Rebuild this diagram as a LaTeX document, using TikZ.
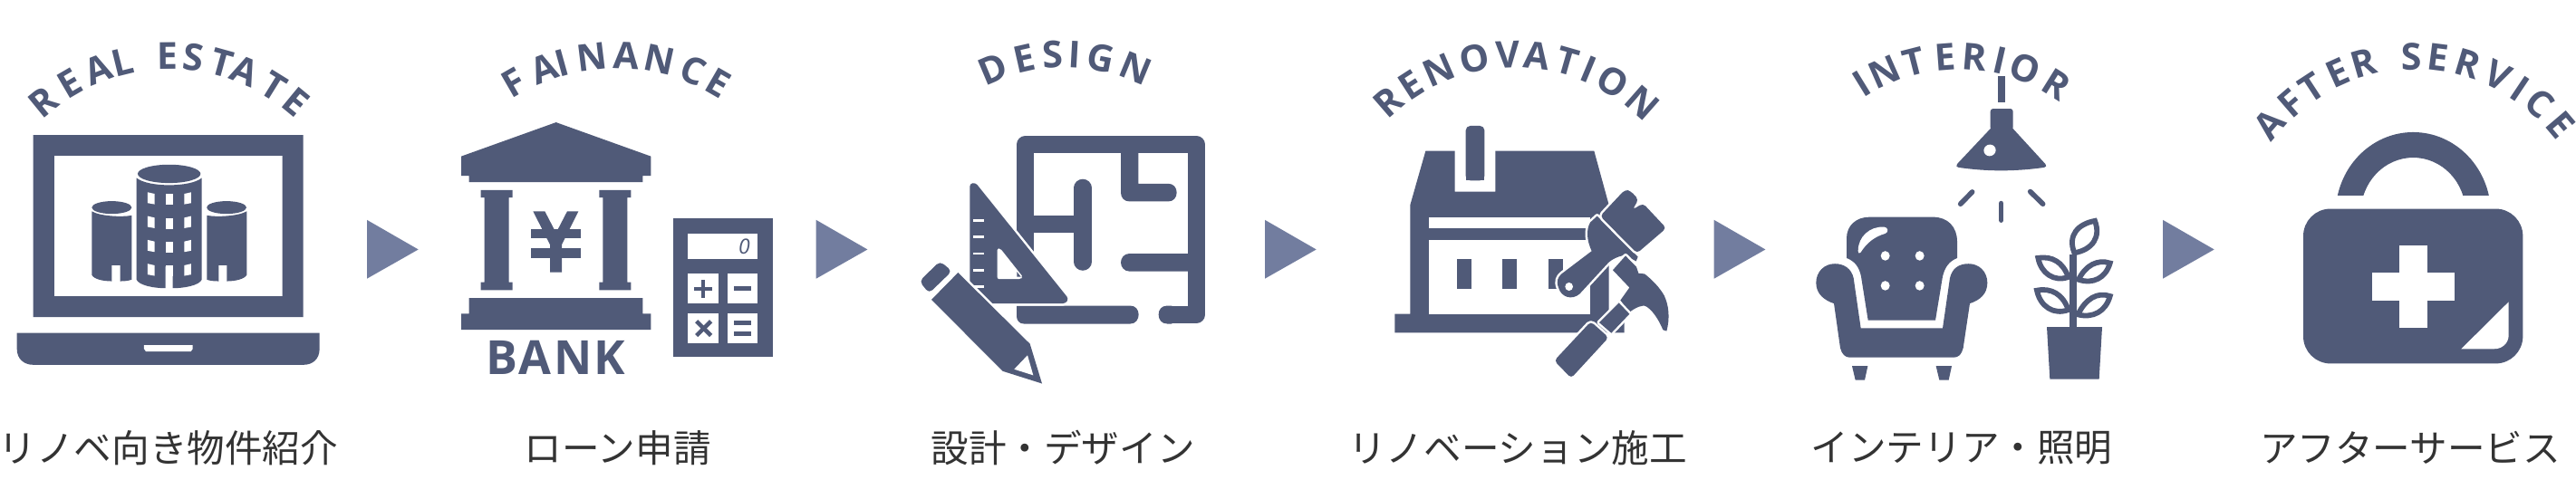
\documentclass[tikz,border=0pt]{standalone}
\usepackage{fontspec}
\newfontfamily\jp{Noto Sans CJK JP}
\newfontfamily\ens{Open Sans}
\definecolor{ink}{HTML}{505A78}
\definecolor{arrowc}{HTML}{727D9F}
\definecolor{jpc}{HTML}{333333}
\tikzset{
 icon/.style={fill=ink,draw=none},
 gap/.style={fill=white,draw=none},
 haloed/.style={fill=ink,preaction={draw=white,line width=5pt,line join=round}},
 wall/.style={draw=ink,line width=19.3pt,line join=round},
 leaf/.style={draw=ink,line width=5.8pt,line join=miter},
 ray/.style={draw=ink,line width=5.6pt,line cap=round},
 zone/.style={x=0.33333pt,y=-0.350877pt},
 archletter/.style={inner sep=0pt,text=ink,font=\ens\bfseries\fontsize{41}{41}\selectfont},
 caption/.style={inner sep=0pt,text=jpc,font=\jp\fontsize{41.6}{44}\selectfont},
 stepmark/.style={fill=arrowc,draw=none},
}
\newcommand{\arcword}[5]{%
 \foreach \lch/\xx in {#5}{%
  \pgfmathsetmacro\letang{asin((\xx-#2)/#4)}%
  \pgfmathsetmacro\yy{#3-#4*cos(\letang)}%
  \pgfmathsetmacro\letrot{atan(1.0526*tan(\letang))}%
  \node[archletter,rotate=-\letrot] (#1\xx) at (\xx,\yy) {\lch};
 }}
\newcommand{\stepmarker}[1]{\fill[stepmark] (#1,230.7) -- (#1+56.7,261.7) -- (#1,292.3) -- cycle;}
\begin{document}
\begin{tikzpicture}[x=1pt,y=-1.05263pt]
\useasboundingbox (0,0) rectangle (2843,523.45);
\fill[white] (0,0) rectangle (2843,523.45);

% arched titles
\arcword{real}{187}{286}{227}{R/48,E/77,A/108,L/135,E/185,S/213,T/245,A/270,T/302,E/327}
\arcword{fin}{680}{293}{235}{F/567,A/600,I/620,N/653,A/691,N/728,C/765,E/793}
\arcword{des}{1175}{270}{213}{D/1096,E/1130,S/1162,I/1186,G/1215,N/1253}
\arcword{ren}{1672}{277}{220}{R/1532,E/1557,N/1588,O/1627,V/1664,A/1696,T/1730,I/1753,O/1780,N/1813}
\arcword{int}{2162}{271}{212}{I/2055,N/2080,T/2112,E/2147,R/2179,I/2207,O/2235,R/2270}
\arcword{aft}{2665}{275}{216}{A/2505,F/2528,T/2551,E/2580,R/2608,S/2661,E/2691,R/2724,V/2757,I/2781,C/2803,E/2826}

% captions
\node[caption] (c1) at (186,470) {リノベ向き物件紹介};
\node[caption] (c2) at (681.7,470) {ローン申請};
\node[caption] (c3) at (1173,470) {設計・デザイン};
\node[caption] (c4) at (1675,470) {リノベーション施工};
\node[caption] (c5) at (2165,470) {インテリア・照明};
\node[caption] (c6) at (2660,470) {アフターサービス};

% step markers
\stepmarker{405}
\stepmarker{900.7}
\stepmarker{1396}
\stepmarker{1891.7}
\stepmarker{2387}

% ---------- laptop
\begin{scope}[zone]
\fill[icon,even odd rule] (110,425) rectangle (1004,998) (180,490) rectangle (935,932);
\fill[icon] (56,1048) -- (1058,1048) -- (1058,1098) .. controls (1058,1130) and (1035,1148) .. (1005,1148) -- (110,1148) .. controls (80,1148) and (56,1130) .. (56,1098) -- cycle;
\fill[gap] (477,1086) -- (638,1086) -- (638,1098) -- (632,1106) -- (483,1106) -- (477,1098) -- cycle;
% centre building
\fill[icon] (560,547) ellipse [x radius=104,y radius=29];
\fill[icon] (452,560) .. controls (490,590) and (630,590) .. (668,560) -- (668,880) .. controls (660,898) and (610,907) .. (572,907) -- (572,838) -- (548,838) -- (548,907) .. controls (510,907) and (460,898) .. (452,880) -- cycle;
\foreach \wy in {605,680,755,830}{
 \fill[gap] (489,\wy) -- (512,\wy+5) -- (512,\wy+38) -- (489,\wy+34) -- cycle;
 \fill[gap] (549,\wy+6) -- (572,\wy+6) -- (572,\wy+40) -- (549,\wy+40) -- cycle;
 \fill[gap] (610,\wy+5) -- (633,\wy) -- (633,\wy+34) -- (610,\wy+38) -- cycle;
}
% left building
\begin{scope}
\clip (290,620) rectangle (436,690);
\fill[icon] (370,653) ellipse [x radius=66,y radius=20];
\end{scope}
\fill[icon] (304,665) .. controls (330,680) and (400,684) .. (436,678) -- (436,880) .. controls (425,884) and (410,885) .. (398,885) -- (398,835) -- (370,835) -- (370,885) .. controls (340,885) and (310,878) .. (304,865) -- cycle;
% right building
\begin{scope}
\clip (685,620) rectangle (830,690);
\fill[icon] (750,653) ellipse [x radius=66,y radius=20];
\end{scope}
\fill[icon] (817,665) .. controls (790,680) and (720,684) .. (685,678) -- (685,880) .. controls (695,884) and (712,885) .. (724,885) -- (724,835) -- (751,835) -- (751,885) .. controls (780,885) and (810,878) .. (817,865) -- cycle;
\end{scope}

% ---------- bank
\begin{scope}[shift={(480pt,0pt)},zone]
\fill[icon] (401,385) -- (715,492) -- (715,553) -- (688,553) -- (688,573) -- (113,573) -- (113,553) -- (87,553) -- (87,492) -- cycle;
\foreach \cx in {0,392}{
 \fill[icon] (152+\cx,598) -- (257+\cx,598) -- (257+\cx,622) -- (245+\cx,622) -- (245+\cx,888) -- (257+\cx,888) -- (257+\cx,913) -- (152+\cx,913) -- (152+\cx,888) -- (164+\cx,888) -- (164+\cx,622) -- (152+\cx,622) -- cycle;
}
\fill[icon] (113,938) -- (688,938) -- (688,987) -- (715,987) -- (715,1038) -- (87,1038) -- (87,987) -- (113,987) -- cycle;
\fill[icon] (325,665) -- (364,665) -- (401,733) -- (438,665) -- (475,665) -- (420,770) -- (420,857) -- (381,857) -- (381,770) -- cycle;
\fill[icon] (318,720) rectangle (483,750);
\fill[icon] (318,782) rectangle (483,813);
\node[inner sep=0pt,text=ink,font=\ens\bfseries\fontsize{52}{52}\selectfont\addfontfeature{LetterSpace=5}] (bank) at (400,1125) {BANK};
% calculator
\fill[icon] (788,687) rectangle (1120,1124);
\fill[gap] (838,735) rectangle (1069,816);
\fill[gap] (838,861) rectangle (939,956);
\fill[gap] (969,861) rectangle (1069,956);
\fill[gap] (838,985) rectangle (939,1080);
\fill[gap] (969,985) rectangle (1069,1080);
\node[inner sep=0pt,text=ink,font=\ens\itshape\fontsize{23}{23}\selectfont] (display) at (1024,776) {0};
\fill[icon] (859,903) rectangle (919,916);
\fill[icon] (883,880) rectangle (895,938);
\fill[icon] (990,902) rectangle (1048,915);
\draw[draw=ink,line width=4.5pt] (866,1011) -- (914,1056) (914,1011) -- (866,1056);
\fill[icon] (990,1009) rectangle (1048,1022);
\fill[icon] (990,1043) rectangle (1048,1056);
\end{scope}

% ---------- design
\begin{scope}[shift={(960pt,0pt)},zone]
\draw[wall] (515,800) -- (515,455) -- (1081,455) -- (1081,990) -- (990,990);
\fill[icon] (985,962) .. controls (965,962) and (956,975) .. (956,990) .. controls (956,1005) and (965,1019) .. (985,1019) -- (1000,1019) -- (1000,962) -- cycle;
\fill[icon] (486,962) -- (862,962) .. controls (880,962) and (890,975) .. (890,990) .. controls (890,1005) and (880,1019) .. (862,1019) -- (510,1019) .. controls (495,1019) and (486,1008) .. (486,995) -- cycle;
\draw[wall,line cap=butt] (544,706) -- (705,706);
\draw[wall,line cap=round] (705,591) -- (705,824);
\fill[icon] (831,470) -- (889,470) -- (889,578) -- (988,578) .. controls (1005,578) and (1016,590) .. (1016,606) .. controls (1016,622) and (1005,634) .. (988,634) -- (860,634) .. controls (842,634) and (831,622) .. (831,606) -- cycle;
\fill[icon] (1090,798) -- (860,798) .. controls (842,798) and (831,812) .. (831,826) .. controls (831,840) and (842,854) .. (860,854) -- (1090,854) -- cycle;
% set square
\path[haloed,rounded corners=3pt] (331,955) -- (331,578) -- (350,575) -- (658,940) -- (648,955) -- cycle;
\fill[gap,rounded corners=2pt,even odd rule] (422,878) -- (422,782) -- (432,782) -- (507,872) -- (500,878) -- cycle;
\fill[icon] (487,855) -- (500,871) -- (487,871) -- cycle;
\foreach \ty in {694,746,798,850,902}{\fill[gap] (342,\ty-4) rectangle (378,\ty+4);}
% pencil
\path[haloed] (292,858) -- (530,1082) -- (570,1207) -- (440,1168) -- (204,943) -- cycle;
\fill[gap] (522,1118) -- (541,1181) -- (478,1162) -- cycle;
\fill[icon,rounded corners=5pt] (232,822) -- (272,853) -- (196,923) -- (164,885) -- cycle;
\end{scope}

% ---------- renovation
\begin{scope}[shift={(1440pt,0pt)},zone]
\fill[icon] (400,475) -- (497,475) -- (497,603) -- (631,603) -- (631,475) -- (958,475) -- (1007,645) -- (1007,988) -- (1058,988) -- (1058,1047) -- (298,1047) -- (298,988) -- (349,988) -- (349,645) -- cycle;
\fill[gap] (411,684) rectangle (946,719);
\fill[gap] (411,754) rectangle (946,988);
\fill[icon,rounded corners=5pt] (533,568) -- (533,396) -- (595,396) -- (595,568) -- cycle;
\fill[icon] (533,500) rectangle (595,568);
\fill[icon] (503,814) rectangle (551,908);
\fill[icon] (654,814) rectangle (702,908);
\fill[icon] (806,814) rectangle (854,908);
% brush handle and ferrule
\path[haloed] (968,680) -- (1103,808) -- (1097,822) -- (1060,803) .. controls (1040,806) and (1015,815) .. (1000,832) -- (910,925) .. controls (885,945) and (850,937) .. (840,905) .. controls (832,885) and (838,872) .. (850,862) -- (950,790) .. controls (935,760) and (930,725) .. (945,700) -- cycle;
\fill[gap] (875,902) circle [radius=13];
% bristles
\path[haloed,rounded corners=4pt] (978,680) -- (1060,597) -- (1078,600) -- (1105,628) -- (1085,660) -- (1120,640) -- (1197,718) -- (1100,797) -- cycle;
% hammer
\path[haloed] (1062,805) -- (1098,840) -- (1105,860) -- (1125,862) .. controls (1150,880) and (1175,905) .. (1190,930) .. controls (1205,960) and (1210,1000) .. (1198,1042) -- (1186,1038) .. controls (1165,990) and (1135,960) .. (1120,962) .. controls (1100,965) and (1085,975) .. (1075,983) -- (1045,945) -- (1075,905) -- (1020,850) -- cycle;
\path[haloed] (1040,953) -- (1075,988) -- (1015,1048) -- (975,1015) -- cycle;
\path[haloed,rounded corners=4pt] (947,1012) -- (1006,1062) -- (882,1190) -- (826,1135) -- cycle;
\end{scope}

% ---------- interior
\begin{scope}[shift={(1920pt,0pt)},zone]
\fill[icon] (855,240) rectangle (878,322);
\fill[icon,rounded corners=3pt] (830,410) -- (830,342) -- (905,342) -- (905,410) -- cycle;
\fill[icon] (830,405) -- (720,516) .. controls (715,522) and (718,526) .. (725,527) .. controls (820,540) and (910,540) .. (1008,527) .. controls (1015,526) and (1017,521) .. (1012,516) -- (905,405) -- cycle;
\fill[gap,rotate around={20:(828,473)}] (828,473) ellipse [x radius=20,y radius=18];
\draw[ray] (731,642) -- (770,604);
\draw[ray] (866,640) -- (866,693);
\draw[ray] (962,603) -- (1004,642);
% chair back
\fill[icon] (354,812) -- (354,750) .. controls (354,710) and (385,683) .. (430,683) -- (640,683) .. controls (690,683) and (720,715) .. (720,760) -- (720,812) .. controls (695,822) and (680,838) .. (672,870) -- (648,1008) -- (425,1008) -- (402,870) .. controls (395,838) and (380,822) .. (354,812) -- cycle;
\fill[gap] (392,790) .. controls (392,745) and (430,712) .. (478,714) .. controls (492,716) and (494,730) .. (482,735) .. controls (445,745) and (420,765) .. (400,795) .. controls (396,799) and (392,797) .. (392,790) -- cycle;
\foreach \bx/\by in {482/805,596/805,482/899,596/899}{\fill[gap] (\bx,\by) circle [radius=15];}
% chair seat and arms
\fill[icon] (401,1033) -- (377,875) .. controls (370,845) and (345,830) .. (315,830) .. controls (280,830) and (253,855) .. (253,890) .. controls (253,925) and (280,945) .. (312,955) -- (333,1095) .. controls (338,1115) and (350,1125) .. (365,1125) -- (708,1125) .. controls (725,1125) and (735,1115) .. (740,1095) -- (762,955) .. controls (795,945) and (820,925) .. (820,890) .. controls (820,855) and (793,830) .. (758,830) .. controls (725,830) and (703,845) .. (696,875) -- (672,1033) -- cycle;
\fill[icon] (372,1152) -- (424,1152) -- (414,1196) -- (383,1196) -- cycle;
\fill[icon] (650,1152) -- (702,1152) -- (692,1196) -- (661,1196) -- cycle;
% plant
\fill[icon] (1017,1029) -- (1200,1029) -- (1190,1193) -- (1027,1193) -- cycle;
\draw[draw=ink,line width=7.8pt] (1103,1035) -- (1103,800);
\draw[leaf] (1108,796) .. controls (1085,740) and (1120,705) .. (1176,695) .. controls (1196,745) and (1170,785) .. (1108,796) -- cycle;
\draw[leaf] (1088,872) .. controls (1070,825) and (1035,805) .. (988,812) .. controls (998,860) and (1040,888) .. (1088,872) -- cycle;
\draw[leaf] (1122,880) .. controls (1145,835) and (1185,815) .. (1226,828) .. controls (1212,875) and (1170,895) .. (1122,880) -- cycle;
\draw[leaf] (1088,975) .. controls (1070,925) and (1030,905) .. (984,914) .. controls (995,965) and (1040,992) .. (1088,975) -- cycle;
\draw[leaf] (1120,990) .. controls (1145,940) and (1185,918) .. (1226,932) .. controls (1212,980) and (1170,1002) .. (1120,990) -- cycle;
\end{scope}

% ---------- after service
\begin{scope}[shift={(2363pt,0pt)},zone]
\begin{scope}
\clip (600,400) rectangle (1200,613);
\fill[icon,even odd rule] (901,673) circle [radius=257] (901,669.4) circle [radius=173.4];
\end{scope}
\fill[icon,rounded corners=30pt] (537,657) rectangle (1264,1144);
\fill[gap] (854,771) rectangle (947,1031);
\fill[gap] (764,857) rectangle (1037,946);
\fill[gap] (1217,950) -- (1217,1055) .. controls (1217,1080) and (1195,1098) .. (1170,1098) -- (1060,1098) -- cycle;
\end{scope}
\end{tikzpicture}
\end{document}
